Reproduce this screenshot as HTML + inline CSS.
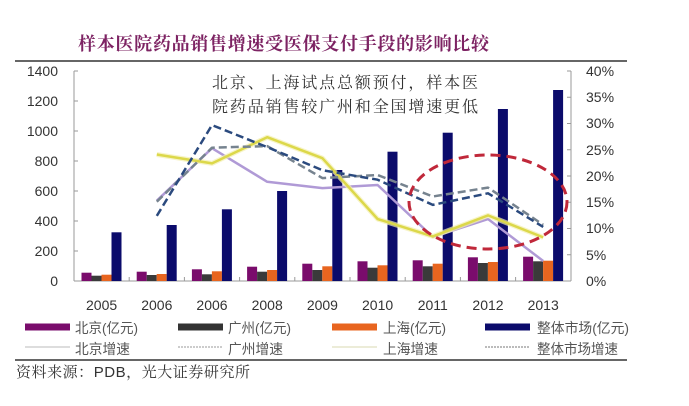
<!DOCTYPE html>
<html><head><meta charset="utf-8">
<style>
html,body{margin:0;padding:0;background:#fff;}
svg{display:block;}
.n{font-family:"Liberation Sans","Noto Sans CJK SC",sans-serif;font-size:14px;fill:#333;}
.cj{font-family:"Liberation Sans","Noto Sans CJK SC",sans-serif;font-size:14px;fill:#555;}
.sf{font-family:"Liberation Serif","Noto Serif CJK SC",serif;}
</style></head>
<body>
<svg width="689" height="406" viewBox="0 0 689 406" xmlns="http://www.w3.org/2000/svg">
<rect width="689" height="406" fill="#fff"/>
<!-- title -->
<text x="78" y="50" class="sf" font-size="18" font-weight="bold" fill="#7d2363" textLength="411" lengthAdjust="spacing">样本医院药品销售增速受医保支付手段的影响比较</text>
<line x1="15" y1="61" x2="627" y2="61" stroke="#666" stroke-width="2"/>

<!-- axes -->
<line x1="74" y1="71" x2="74" y2="281" stroke="#9a9a9a" stroke-width="1"/>
<line x1="571" y1="71" x2="571" y2="281" stroke="#9a9a9a" stroke-width="1"/>
<line x1="74" y1="281" x2="571" y2="281" stroke="#9a9a9a" stroke-width="1"/>
<g stroke="#9a9a9a" stroke-width="1">
<line x1="74" y1="71" x2="78" y2="71"/><line x1="74" y1="101" x2="78" y2="101"/><line x1="74" y1="131" x2="78" y2="131"/><line x1="74" y1="161" x2="78" y2="161"/><line x1="74" y1="191" x2="78" y2="191"/><line x1="74" y1="221" x2="78" y2="221"/><line x1="74" y1="251" x2="78" y2="251"/>
<line x1="567" y1="71" x2="571" y2="71"/><line x1="567" y1="97.25" x2="571" y2="97.25"/><line x1="567" y1="123.5" x2="571" y2="123.5"/><line x1="567" y1="149.75" x2="571" y2="149.75"/><line x1="567" y1="176" x2="571" y2="176"/><line x1="567" y1="202.25" x2="571" y2="202.25"/><line x1="567" y1="228.5" x2="571" y2="228.5"/><line x1="567" y1="254.75" x2="571" y2="254.75"/>
<line x1="129.2" y1="277" x2="129.2" y2="281"/><line x1="184.4" y1="277" x2="184.4" y2="281"/><line x1="239.6" y1="277" x2="239.6" y2="281"/><line x1="294.8" y1="277" x2="294.8" y2="281"/><line x1="350" y1="277" x2="350" y2="281"/><line x1="405.2" y1="277" x2="405.2" y2="281"/><line x1="460.4" y1="277" x2="460.4" y2="281"/><line x1="515.6" y1="277" x2="515.6" y2="281"/>
</g>
<!-- left labels -->
<g class="n" text-anchor="end">
<text x="58" y="76">1400</text><text x="58" y="106">1200</text><text x="58" y="136">1000</text><text x="58" y="166">800</text><text x="58" y="196">600</text><text x="58" y="226">400</text><text x="58" y="256">200</text><text x="58" y="286">0</text>
</g>
<!-- right labels -->
<g class="n">
<text x="586" y="76">40%</text><text x="586" y="102">35%</text><text x="586" y="128">30%</text><text x="586" y="155">25%</text><text x="586" y="181">20%</text><text x="586" y="207">15%</text><text x="586" y="233">10%</text><text x="586" y="260">5%</text><text x="586" y="286">0%</text>
</g>
<!-- x labels -->
<g class="n" text-anchor="middle">
<text x="101.6" y="310">2005</text><text x="156.8" y="310">2006</text><text x="212" y="310">2006</text><text x="267.2" y="310">2008</text><text x="322.4" y="310">2009</text><text x="377.6" y="310">2010</text><text x="432.8" y="310">2011</text><text x="488" y="310">2012</text><text x="543.2" y="310">2013</text>
</g>

<!-- bars -->
<g>
<!-- 2005 cs=74 -->
<rect x="81.5" y="272.7" width="10" height="8.3" fill="#7a0c6c"/>
<rect x="91.5" y="275.7" width="10" height="5.3" fill="#3a3a3a"/>
<rect x="101.5" y="274.7" width="10" height="6.3" fill="#e8651f"/>
<rect x="111.5" y="232.3" width="10" height="48.7" fill="#0b0b6b"/>
<!-- 2006 cs=129.2 -->
<rect x="136.7" y="271.7" width="10" height="9.3" fill="#7a0c6c"/>
<rect x="146.7" y="275" width="10" height="6" fill="#3a3a3a"/>
<rect x="156.7" y="274" width="10" height="7" fill="#e8651f"/>
<rect x="166.7" y="225" width="10" height="56" fill="#0b0b6b"/>
<!-- 2007 cs=184.4 -->
<rect x="191.9" y="269.3" width="10" height="11.7" fill="#7a0c6c"/>
<rect x="201.9" y="274.3" width="10" height="6.7" fill="#3a3a3a"/>
<rect x="211.9" y="271.3" width="10" height="9.7" fill="#e8651f"/>
<rect x="221.9" y="209.3" width="10" height="71.7" fill="#0b0b6b"/>
<!-- 2008 cs=239.6 -->
<rect x="247.1" y="266.7" width="10" height="14.3" fill="#7a0c6c"/>
<rect x="257.1" y="271.7" width="10" height="9.3" fill="#3a3a3a"/>
<rect x="267.1" y="270" width="10" height="11" fill="#e8651f"/>
<rect x="277.1" y="191" width="10" height="90" fill="#0b0b6b"/>
<!-- 2009 cs=294.8 -->
<rect x="302.3" y="263.7" width="10" height="17.3" fill="#7a0c6c"/>
<rect x="312.3" y="270" width="10" height="11" fill="#3a3a3a"/>
<rect x="322.3" y="266.3" width="10" height="14.7" fill="#e8651f"/>
<rect x="332.3" y="170" width="10" height="111" fill="#0b0b6b"/>
<!-- 2010 cs=350 -->
<rect x="357.5" y="261.3" width="10" height="19.7" fill="#7a0c6c"/>
<rect x="367.5" y="267.7" width="10" height="13.3" fill="#3a3a3a"/>
<rect x="377.5" y="265.3" width="10" height="15.7" fill="#e8651f"/>
<rect x="387.5" y="151.7" width="10" height="129.3" fill="#0b0b6b"/>
<!-- 2011 cs=405.2 -->
<rect x="412.7" y="260.3" width="10" height="20.7" fill="#7a0c6c"/>
<rect x="422.7" y="266.3" width="10" height="14.7" fill="#3a3a3a"/>
<rect x="432.7" y="263.7" width="10" height="17.3" fill="#e8651f"/>
<rect x="442.7" y="132.7" width="10" height="148.3" fill="#0b0b6b"/>
<!-- 2012 cs=460.4 -->
<rect x="467.9" y="257.3" width="10" height="23.7" fill="#7a0c6c"/>
<rect x="477.9" y="263" width="10" height="18" fill="#3a3a3a"/>
<rect x="487.9" y="262" width="10" height="19" fill="#e8651f"/>
<rect x="497.9" y="109" width="10" height="172" fill="#0b0b6b"/>
<!-- 2013 cs=515.6 -->
<rect x="523.1" y="256.7" width="10" height="24.3" fill="#7a0c6c"/>
<rect x="533.1" y="261.3" width="10" height="19.7" fill="#3a3a3a"/>
<rect x="543.1" y="260.7" width="10" height="20.3" fill="#e8651f"/>
<rect x="553.1" y="90" width="10" height="191" fill="#0b0b6b"/>
</g>

<!-- growth lines: y = 281 - p*5.25 -->
<!-- Beijing lavender -->
<polyline fill="none" stroke="#b09ad6" stroke-width="2.5" stroke-linejoin="round"
 points="156.8,200.7 212,148.2 267.2,181.8 322.4,188.1 377.6,185 432.8,236.9 488,219 543.2,261"/>
<!-- Shanghai yellow -->
<polyline fill="none" stroke="#f3efb0" stroke-width="5" stroke-linejoin="round" opacity="0.7"
 points="156.8,154.5 212,163.4 267.2,137.2 322.4,158.2 377.6,219 432.8,236.4 488,215.4 543.2,237.4"/>
<polyline fill="none" stroke="#dcd84a" stroke-width="2.5" stroke-linejoin="round"
 points="156.8,154.5 212,163.4 267.2,137.2 322.4,158.2 377.6,219 432.8,236.4 488,215.4 543.2,237.4"/>
<!-- Guangzhou gray dashed -->
<polyline fill="none" stroke="#76838f" stroke-width="2.5" stroke-dasharray="8,4" stroke-linejoin="round"
 points="156.8,201.7 212,147.7 267.2,146.1 322.4,178.1 377.6,175 432.8,196.5 488,187.6 543.2,224.8"/>
<!-- Overall blue dashed -->
<polyline fill="none" stroke="#2b4a7e" stroke-width="2.5" stroke-dasharray="8,4" stroke-linejoin="round"
 points="156.8,215.9 212,125.1 267.2,147.1 322.4,170.2 377.6,179.7 432.8,204.9 488,193.3 543.2,226.9"/>

<!-- red dashed ellipse -->
<ellipse cx="488" cy="202" rx="79" ry="47" fill="none" stroke="#c0283a" stroke-width="3" stroke-dasharray="10,6"/>

<!-- annotation -->
<text x="212" y="88" class="sf" font-size="16" fill="#333" textLength="266" lengthAdjust="spacing">北京、上海试点总额预付，样本医</text>
<text x="212" y="112" class="sf" font-size="16" fill="#333" textLength="266" lengthAdjust="spacing">院药品销售较广州和全国增速更低</text>

<!-- legend row 1 -->
<rect x="25" y="323.5" width="45" height="7" fill="#7a0c6c"/>
<text x="75" y="333" class="cj" textLength="63" lengthAdjust="spacingAndGlyphs">北京(亿元)</text>
<rect x="178" y="323.5" width="45" height="7" fill="#333"/>
<text x="228" y="333" class="cj" textLength="63" lengthAdjust="spacingAndGlyphs">广州(亿元)</text>
<rect x="332" y="323.5" width="45" height="7" fill="#e8651f"/>
<text x="383" y="333" class="cj" textLength="63" lengthAdjust="spacingAndGlyphs">上海(亿元)</text>
<rect x="485" y="323.5" width="45" height="7" fill="#0b0b6b"/>
<text x="537" y="333" class="cj" textLength="92" lengthAdjust="spacingAndGlyphs">整体市场(亿元)</text>
<!-- legend row 2 -->
<line x1="25" y1="347" x2="70" y2="347" stroke="#bbb" stroke-width="1"/>
<text x="75" y="354" class="cj" textLength="55" lengthAdjust="spacingAndGlyphs">北京增速</text>
<line x1="178" y1="347" x2="223" y2="347" stroke="#999" stroke-width="1" stroke-dasharray="2,1"/>
<text x="228" y="354" class="cj" textLength="55" lengthAdjust="spacingAndGlyphs">广州增速</text>
<line x1="332" y1="347" x2="377" y2="347" stroke="#d8d8b0" stroke-width="1"/>
<text x="383" y="354" class="cj" textLength="55" lengthAdjust="spacingAndGlyphs">上海增速</text>
<line x1="485" y1="347" x2="530" y2="347" stroke="#777" stroke-width="1" stroke-dasharray="2,1"/>
<text x="537" y="354" class="cj" textLength="81" lengthAdjust="spacingAndGlyphs">整体市场增速</text>

<line x1="15" y1="360" x2="627" y2="360" stroke="#666" stroke-width="2"/>
<text x="16" y="377" font-family="Liberation Sans, Noto Serif CJK SC, serif" font-size="15" fill="#333" textLength="234" lengthAdjust="spacing">资料来源：PDB，光大证券研究所</text>
</svg>
</body></html>
